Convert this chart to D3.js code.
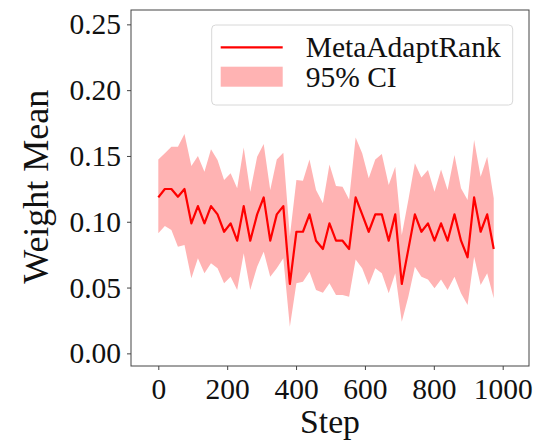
<!DOCTYPE html>
<html>
<head>
<meta charset="utf-8">
<script src="https://cdn.jsdelivr.net/npm/d3@7"></script>
<style>
  body { margin: 0; background: #fff; }
  text { font-family: "Liberation Serif", "Times New Roman", serif; fill: #111; }
</style>
</head>
<body>
<div id="chart"></div>
<script>
// step values (one point every ~19 steps)
const steps = [0,19,38,57,76,96,115,134,153,172,191,210,229,248,267,287,306,325,344,363,
  382,401,420,439,458,478,497,516,535,554,573,592,611,630,649,669,688,707,726,745,
  764,783,802,821,840,860,879,898,917,936,955,974];

const meanVals = [0.1185,0.1249,0.1249,0.1190,0.1249,0.0988,0.1119,0.0988,0.1119,0.1056,
  0.0924,0.0988,0.0856,0.1119,0.0856,0.1056,0.1185,0.0856,0.1056,0.1119,
  0.0527,0.0924,0.0924,0.1056,0.0856,0.0793,0.0988,0.0856,0.0856,0.0793,
  0.1185,0.1056,0.0924,0.1056,0.1056,0.0856,0.1056,0.0527,0.0790,0.1056,
  0.0924,0.0988,0.0856,0.0988,0.0856,0.1056,0.0856,0.0730,0.1185,0.0924,
  0.1056,0.0793];

const upperVals = [0.1474,0.1520,0.1570,0.1570,0.1667,0.1424,0.1499,0.1380,0.1550,0.1469,
  0.1317,0.1368,0.1254,0.1565,0.1228,0.1494,0.1591,0.1241,0.1474,0.1525,
  0.0890,0.1317,0.1312,0.1474,0.1241,0.1140,0.1436,0.1271,0.1266,0.1170,
  0.1641,0.1520,0.1330,0.1474,0.1515,0.1279,0.1418,0.0900,0.1165,0.1444,
  0.1337,0.1393,0.1228,0.1398,0.1241,0.1507,0.1254,0.1165,0.1621,0.1342,
  0.1494,0.1178];

const lowerVals = [0.0912,0.0968,0.0937,0.0811,0.0823,0.0570,0.0722,0.0608,0.0684,0.0646,
  0.0532,0.0583,0.0481,0.0760,0.0481,0.0659,0.0773,0.0583,0.0646,0.0722,
  0.0203,0.0532,0.0545,0.0621,0.0481,0.0461,0.0532,0.0443,0.0443,0.0431,
  0.0714,0.0646,0.0519,0.0646,0.0608,0.0456,0.0608,0.0241,0.0431,0.0659,
  0.0583,0.0562,0.0494,0.0562,0.0481,0.0583,0.0456,0.0367,0.0735,0.0519,
  0.0608,0.0418];

const xTicks = [0, 200, 400, 600, 800, 1000];
const yTicks = [0.00, 0.05, 0.10, 0.15, 0.20, 0.25];
const seriesName = 'MetaAdaptRank';
const bandName = '95% CI';

const W = 539, H = 441;
const margin = { top: 10, right: 10, bottom: 75, left: 131 };
const width = W - margin.left - margin.right;
const height = H - margin.top - margin.bottom;

const lineColor = '#ff0000';
const bandColor = '#ffb3b3';
const fontSize = '29.5px';

const data = steps.map((s, i) => ({ step: s, mean: meanVals[i], lo: lowerVals[i], hi: upperVals[i] }));

const svg = d3.select('#chart').append('svg')
  .attr('width', W)
  .attr('height', H)
  .append('g')
  .attr('transform', `translate(${margin.left},${margin.top})`);

const x = d3.scaleLinear().domain([-79.3, 1076.4]).range([0, width]);
const y = d3.scaleLinear().domain([-0.0096, 0.2609]).range([height, 0]);

svg.append('path')
  .datum(data)
  .attr('fill', bandColor)
  .attr('d', d3.area().x(d => x(d.step)).y0(d => y(d.lo)).y1(d => y(d.hi)));

svg.append('path')
  .datum(data)
  .attr('fill', 'none')
  .attr('stroke', lineColor)
  .attr('stroke-width', 2.2)
  .attr('stroke-linejoin', 'round')
  .attr('d', d3.line().x(d => x(d.step)).y(d => y(d.mean)));

// axes
const yAxisG = svg.append('g')
  .call(d3.axisLeft(y).tickValues(yTicks).tickFormat(d3.format('.2f')).tickSize(4).tickPadding(6));
const xAxisG = svg.append('g')
  .attr('transform', `translate(0,${height})`)
  .call(d3.axisBottom(x).tickValues(xTicks).tickFormat(d3.format('d')).tickSize(4).tickPadding(8));

[yAxisG, xAxisG].forEach(g => {
  g.select('.domain').remove();
  g.selectAll('line').attr('stroke', '#444');
  g.selectAll('text').style('font-size', fontSize).style('fill', '#111')
    .style('font-family', '"Liberation Serif", "Times New Roman", serif');
});

svg.append('rect')
  .attr('width', width)
  .attr('height', height)
  .attr('fill', 'none')
  .attr('stroke', '#444')
  .attr('stroke-width', 1);

// axis titles
svg.append('text')
  .attr('x', width / 2)
  .attr('y', height + 67)
  .attr('text-anchor', 'middle')
  .style('font-size', '33.7px')
  .text('Step');

svg.append('text')
  .attr('transform', 'rotate(-90)')
  .attr('x', -176.7)
  .attr('y', -82.7)
  .attr('text-anchor', 'middle')
  .style('font-size', '36px')
  .text('Weight Mean');

// legend
const legend = svg.append('g')
  .attr('transform', `translate(${211.7 - margin.left},${25 - margin.top})`);

legend.append('rect')
  .attr('width', 301)
  .attr('height', 80)
  .attr('rx', 4)
  .attr('fill', '#fff')
  .attr('fill-opacity', 0.8)
  .attr('stroke', '#d8d8d8')
  .attr('stroke-width', 1);

legend.append('line')
  .attr('x1', 9).attr('x2', 71)
  .attr('y1', 22.3).attr('y2', 22.3)
  .attr('stroke', lineColor)
  .attr('stroke-width', 2.2);

legend.append('rect')
  .attr('x', 9).attr('y', 41.7)
  .attr('width', 62).attr('height', 20)
  .attr('fill', bandColor);

legend.append('text')
  .attr('x', 94).attr('y', 31.8)
  .style('font-size', fontSize)
  .text(seriesName);

legend.append('text')
  .attr('x', 94).attr('y', 61.7)
  .style('font-size', fontSize)
  .text(bandName);
</script>
</body>
</html>
